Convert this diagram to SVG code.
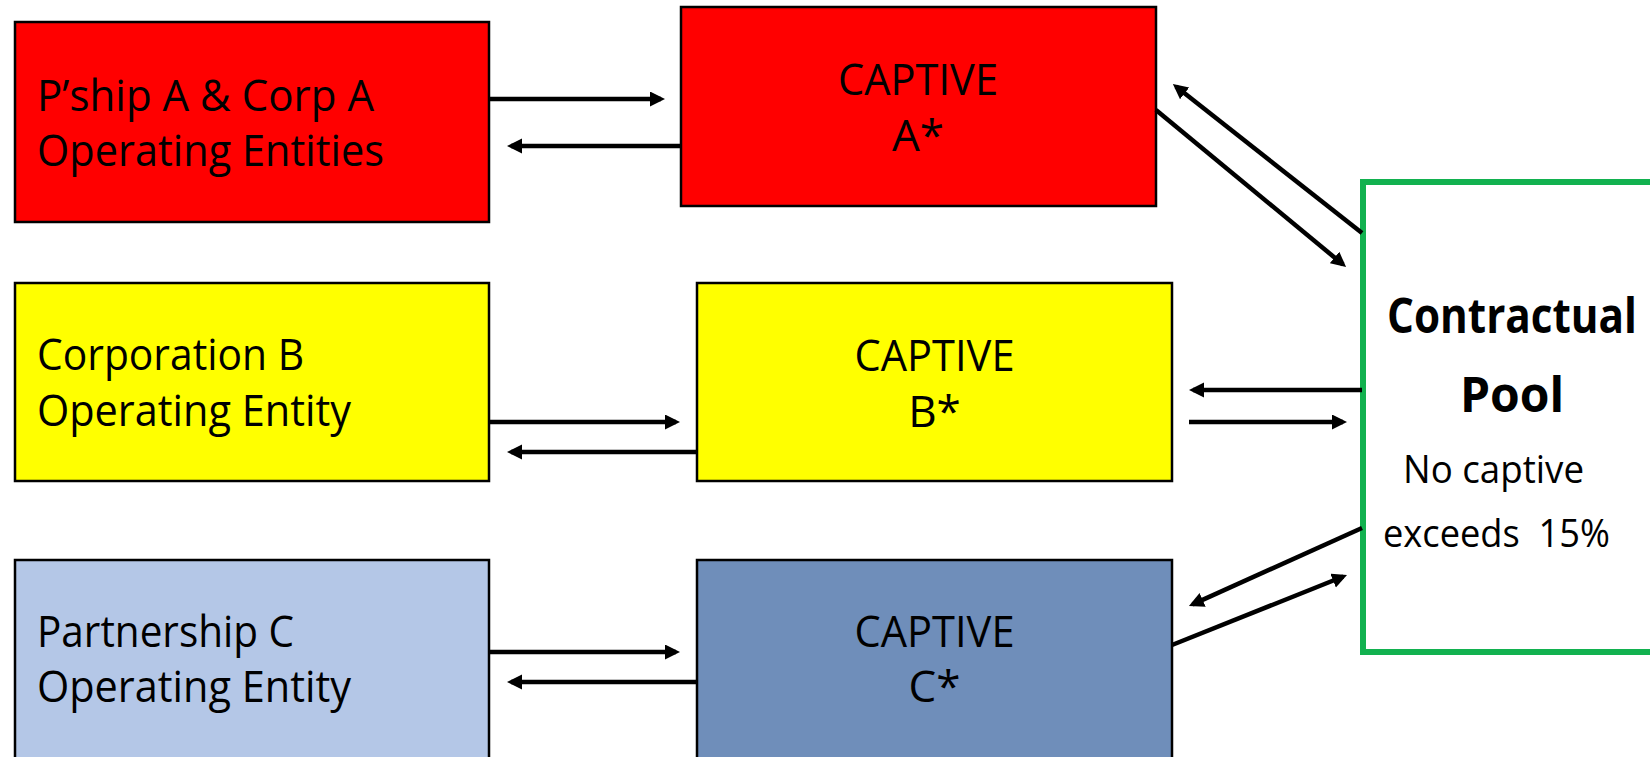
<svg xmlns="http://www.w3.org/2000/svg" width="1650" height="757" viewBox="0 0 1650 757">
  <style>
    .box { stroke: #000; stroke-width: 2.5; }
    .red { fill: #FF0000; }
    .yel { fill: #FFFF00; }
    .lblue { fill: #B4C7E7; }
    .dblue { fill: #6F8EBA; }
    .pool { fill: #FFFFFF; stroke: #12B14F; stroke-width: 6; }
    .t { font-family: "Open Sans", "Noto Sans", "Liberation Sans", sans-serif; font-size: 44px; fill: #000; }
    .mid { text-anchor: middle; }
    .b { font-family: "Open Sans", "Noto Sans", "Liberation Sans", sans-serif; font-size: 48px; font-weight: bold; fill: #000; text-anchor: middle; }
    .s { font-family: "Open Sans", "Noto Sans", "Liberation Sans", sans-serif; font-size: 38px; fill: #000; white-space: pre; }
    .c { stroke: #000; stroke-width: 4.5; fill: none; marker-end: url(#arrow); }
  </style>
  <defs>
    <marker id="arrow" markerUnits="userSpaceOnUse" markerWidth="16" markerHeight="16" refX="11" refY="7.5" orient="auto">
      <path d="M0,0 L15,7.5 L0,15 z" fill="#000"/>
    </marker>
  </defs>

  <rect width="1650" height="757" fill="#FFFFFF"/>

  <!-- operating entity A -->
  <g id="opA">
    <rect class="box red" x="15" y="22" width="474" height="200"/>
    <text class="t" x="37" y="111" textLength="337" lengthAdjust="spacingAndGlyphs">P’ship A &amp; Corp A</text>
    <text class="t" x="37" y="166" textLength="347" lengthAdjust="spacingAndGlyphs">Operating Entities</text>
  </g>

  <!-- captive A -->
  <g id="captiveA">
    <rect class="box red" x="681" y="7" width="475" height="199"/>
    <text class="t mid" x="918" y="95" textLength="160" lengthAdjust="spacingAndGlyphs">CAPTIVE</text>
    <text class="t mid" x="918" y="151">A*</text>
  </g>

  <!-- operating entity B -->
  <g id="opB">
    <rect class="box yel" x="15" y="283" width="474" height="198"/>
    <text class="t" x="37" y="370" textLength="267" lengthAdjust="spacingAndGlyphs">Corporation B</text>
    <text class="t" x="37" y="426" textLength="314" lengthAdjust="spacingAndGlyphs">Operating Entity</text>
  </g>

  <!-- captive B -->
  <g id="captiveB">
    <rect class="box yel" x="697" y="283" width="475" height="198"/>
    <text class="t mid" x="934.5" y="371" textLength="160" lengthAdjust="spacingAndGlyphs">CAPTIVE</text>
    <text class="t mid" x="934.5" y="427">B*</text>
  </g>

  <!-- operating entity C -->
  <g id="opC">
    <rect class="box lblue" x="15" y="560" width="474" height="210"/>
    <text class="t" x="37" y="647" textLength="257" lengthAdjust="spacingAndGlyphs">Partnership C</text>
    <text class="t" x="37" y="702" textLength="314" lengthAdjust="spacingAndGlyphs">Operating Entity</text>
  </g>

  <!-- captive C -->
  <g id="captiveC">
    <rect class="box dblue" x="697" y="560" width="475" height="210"/>
    <text class="t mid" x="934.5" y="647" textLength="160" lengthAdjust="spacingAndGlyphs">CAPTIVE</text>
    <text class="t mid" x="934.5" y="702">C*</text>
  </g>

  <!-- contractual pool -->
  <g id="pool">
    <rect class="pool" x="1363" y="182" width="320" height="470"/>
    <text class="b" x="1512" y="333" textLength="250" lengthAdjust="spacingAndGlyphs">Contractual</text>
    <text class="b" x="1512" y="412">Pool</text>
    <text class="s" x="1403" y="483" textLength="181" lengthAdjust="spacingAndGlyphs">No captive</text>
    <text class="s" x="1383" y="547" textLength="227" lengthAdjust="spacingAndGlyphs" xml:space="preserve">exceeds  15%</text>
  </g>

  <!-- connectors -->
  <g id="connectors">
    <line class="c" x1="489" y1="99" x2="661" y2="99"/>
    <line class="c" x1="681" y1="146" x2="511" y2="146"/>
    <line class="c" x1="489" y1="422" x2="676" y2="422"/>
    <line class="c" x1="697" y1="452" x2="511" y2="452"/>
    <line class="c" x1="489" y1="652" x2="676" y2="652"/>
    <line class="c" x1="697" y1="682" x2="511" y2="682"/>
    <line class="c" x1="1156" y1="110" x2="1343" y2="264.5"/>
    <line class="c" x1="1362" y1="233" x2="1176" y2="86.5"/>
    <line class="c" x1="1362" y1="390" x2="1193" y2="390"/>
    <line class="c" x1="1189" y1="422" x2="1343" y2="422"/>
    <line class="c" x1="1362" y1="528" x2="1192.6" y2="604.4"/>
    <line class="c" x1="1172" y1="645" x2="1343.3" y2="576.5"/>
  </g>
</svg>
